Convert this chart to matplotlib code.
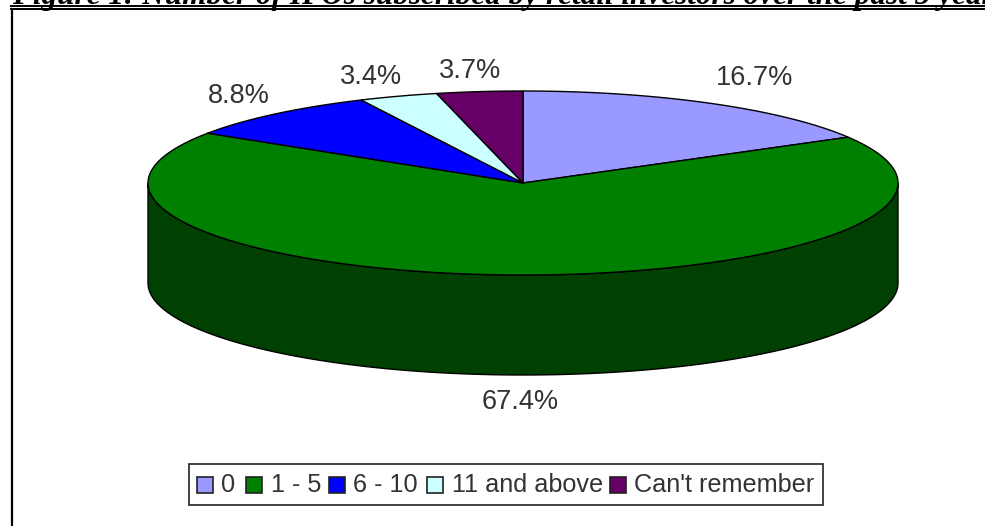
import numpy as np
import matplotlib
matplotlib.use('Agg')
import matplotlib.pyplot as plt
from matplotlib.patches import Polygon, Rectangle

# Values and labels
labels = ['0', '1 - 5', '6 - 10', '11 and above', "Can't remember"]
values = [16.7, 67.4, 8.8, 3.4, 3.7]
colors = ['#9999FF', '#008000', '#0000FF', '#CCFFFF', '#660066']
dark = '#004000'
title = 'Figure 1: Number of IPOs subscribed by retail investors over the past 5 years'

W, H = 985, 526
cx, cy, rx, ry, depth = 523, 183, 375, 92, 100

plt.rcParams['font.family'] = ['Liberation Sans', 'DejaVu Sans']
fig = plt.figure(figsize=(W / 100, H / 100), dpi=100)
ax = fig.add_axes([0, 0, 1, 1])
ax.set_xlim(0, W)
ax.set_ylim(H, 0)
ax.axis('off')


def ell(a):
    # a in degrees clockwise from 12 o'clock
    a = np.radians(a)
    return cx + rx * np.sin(a), cy - ry * np.cos(a)


angles = np.concatenate([[0], np.cumsum(values)]) * 3.6

# side wall of the visible front half
t = np.linspace(90, 270, 200)
x, y = ell(t)
side = np.column_stack([np.r_[x, x[::-1]], np.r_[y, y[::-1] + depth]])
ax.add_patch(Polygon(side, closed=True, fc=dark, ec='black', lw=1, zorder=1))

# top wedges
for i, c in enumerate(colors):
    t = np.linspace(angles[i], angles[i + 1], 200)
    x, y = ell(t)
    pts = np.column_stack([np.r_[cx, x], np.r_[cy, y]])
    ax.add_patch(Polygon(pts, closed=True, fc=c, ec='black', lw=1, zorder=2))

# percent labels
label_pos = [(755, 78), (520, 402), (239, 96), (371, 77), (470, 71)]
for v, (lx, ly) in zip(values, label_pos):
    ax.text(lx, ly, f'{v}%', ha='center', va='center', fontsize=19.5, color='#333333')

# caption, cut off by the top of the image
ax.text(12, 4, title, family=['Liberation Serif', 'DejaVu Serif'], style='italic', weight='bold',
        fontsize=22.5, ha='left', va='baseline', color='black')

# frame: left side and double rule on top
ax.plot([12, 12], [9, H], color='black', lw=1.6, zorder=3)
ax.plot([11, W], [5.5, 5.5], color='black', lw=1.4, zorder=3)
ax.plot([11, W], [9, 9], color='black', lw=1.4, zorder=3)

# legend
ax.add_patch(Rectangle((189, 464), 634, 41, fc='white', ec='#222222', lw=1.2, zorder=3))
swatch_x = [197, 246, 329, 427, 610]
text_x = [221, 271, 353, 452, 634]
for i in range(len(labels)):
    ax.add_patch(Rectangle((swatch_x[i], 477), 15.5, 15.5, fc=colors[i], ec='#222222', lw=1.2, zorder=4))
    ax.text(text_x[i], 485, labels[i], ha='left', va='center', fontsize=18.2, color='#333333', zorder=4)

fig.savefig('out.png', dpi=100)
